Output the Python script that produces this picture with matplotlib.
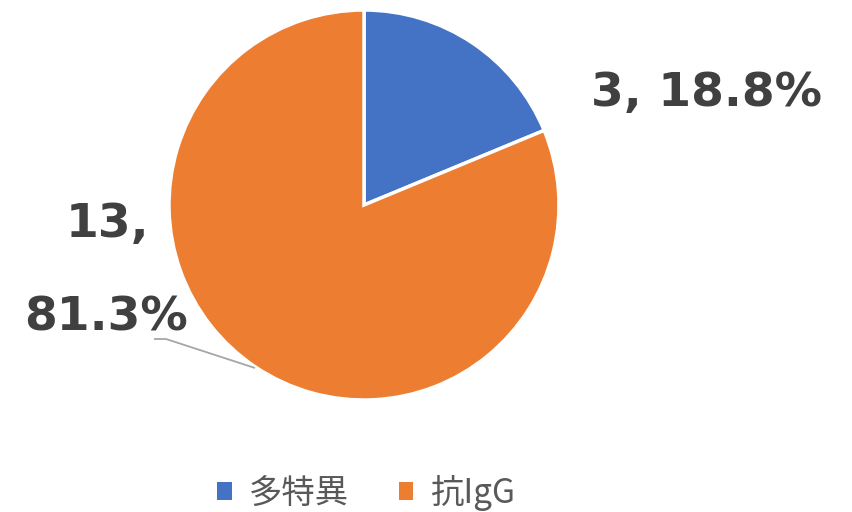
import matplotlib
matplotlib.use("Agg")
import matplotlib.pyplot as plt
from matplotlib.patches import Patch
from matplotlib.font_manager import FontProperties
from decimal import Decimal, ROUND_HALF_UP

categories = ["多特異", "抗IgG"]
values = [3, 13]
colors = ["#4472C4", "#ED7D31"]

plt.rcParams['font.family'] = ['Noto Sans CJK JP', 'DejaVu Sans']

W, H = 853, 512
fig = plt.figure(figsize=(W / 100, H / 100), dpi=100)
ax = fig.add_axes([0, 0, 1, 1])

cx, cy, r = 364, H - 205, 195
wedges, _ = ax.pie(values, colors=colors, startangle=90, counterclock=False,
                   center=(cx, cy), radius=r, frame=True,
                   wedgeprops=dict(edgecolor='white', linewidth=2.5))
ax.set_xlim(0, W)
ax.set_ylim(0, H)
ax.set_aspect('equal')
ax.axis('off')

total = sum(values)
def pct(v):
    d = Decimal(v * 100) / Decimal(total)
    return str(d.quantize(Decimal('0.1'), rounding=ROUND_HALF_UP))

lab_color = "#404040"
fp = FontProperties(family='DejaVu Sans', weight='bold', size=34)
ax.text(707, H - 93, f"{values[0]}, {pct(values[0])}%", ha='center', va='center',
        fontproperties=fp, color=lab_color)
ax.text(108, H - 225, f"{values[1]},", ha='center', va='center',
        fontproperties=fp, color=lab_color)
ax.text(106, H - 318, f"{pct(values[1])}%", ha='center', va='center',
        fontproperties=fp, color=lab_color)
ax.plot([154, 166, 255], [H - 339, H - 339, H - 368], color="#A6A6A6", lw=1.3,
        solid_capstyle='butt')

handles = [Patch(facecolor=c, edgecolor='none') for c in colors]
fig.legend(handles, categories, loc='center', bbox_to_anchor=(366 / W, 1 - 493 / H),
           ncol=2, frameon=False, fontsize=24, handlelength=0.43, handleheight=0.43,
           handletextpad=0.5, columnspacing=1.5, labelcolor="#595959")

fig.savefig("out.png", dpi=100)
